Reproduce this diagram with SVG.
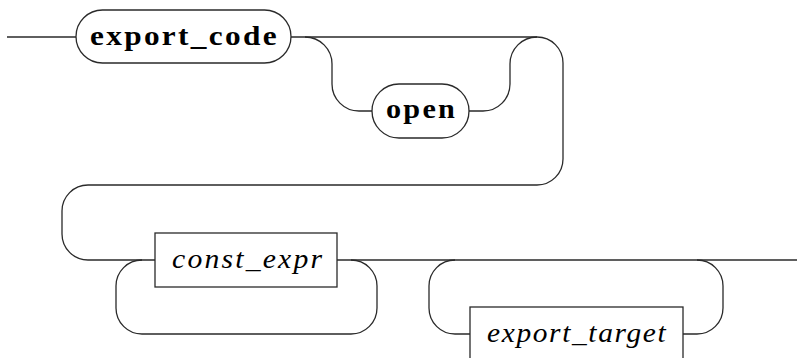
<svg xmlns="http://www.w3.org/2000/svg" width="797" height="358" viewBox="0 0 797 358" font-family="Liberation Serif">
<style>
.ln{fill:none;stroke:#2a2a2a;stroke-width:1.3}
.nd{fill:#fff;stroke:#2a2a2a;stroke-width:1.3}
svg text{font-family:"Liberation Serif","Times New Roman",serif !important}
</style>
<rect width="797" height="358" fill="#fff"/>
<g id="connectors">
<path class="ln" d="M7,37 H76"/>
<path class="ln" d="M291,37 H537 A26,26 0 0 1 563,63 V159 A26,26 0 0 1 537,185 H88 A26,26 0 0 0 62,211 V234 A26,26 0 0 0 88,260 H155"/>
<path class="ln" d="M305,37 A27,27 0 0 1 332,64 V84 A27,27 0 0 0 359,111 H372"/>
<path class="ln" d="M469,111 H483 A27,27 0 0 0 510,84 V64 A27,27 0 0 1 537,37"/>
<path class="ln" d="M142,260 A26,26 0 0 0 116,286 V308 A26,26 0 0 0 142,334 H351 A26,26 0 0 0 377,308 V286 A26,26 0 0 0 351,260"/>
<path class="ln" d="M337,260 H797"/>
<path class="ln" d="M455,260 A26,26 0 0 0 429,286 V308 A26,26 0 0 0 455,334 H470"/>
<path class="ln" d="M683,334 H697 A26,26 0 0 0 723,308 V286 A26,26 0 0 0 697,260"/>
</g>
<g id="export_code" font-family="Liberation Serif">
<rect class="nd" x="76" y="10" width="215" height="53" rx="26.5" ry="26.5"/>
<text transform="translate(90,45) scale(1.16,1)" style="font-family:'Liberation Serif',serif;font-weight:bold;font-size:27px;letter-spacing:2px" fill="#000">export_code</text>
</g>
<g id="open" font-family="Liberation Serif">
<rect class="nd" x="372" y="84" width="97" height="54" rx="27" ry="27"/>
<text transform="translate(386,118) scale(1.12,1)" style="font-family:'Liberation Serif',serif;font-weight:bold;font-size:27px;letter-spacing:2px" fill="#000">open</text>
</g>
<g id="const_expr" font-family="Liberation Serif">
<rect class="nd" x="155" y="233" width="182" height="54"/>
<text transform="translate(172,268) scale(1.1,1)" style="font-family:'Liberation Serif',serif;font-style:italic;font-size:27px;letter-spacing:2px" fill="#000">const_expr</text>
</g>
<g id="export_target" font-family="Liberation Serif">
<rect class="nd" x="470" y="307" width="213" height="55"/>
<text transform="translate(487,342) scale(1.09,1)" style="font-family:'Liberation Serif',serif;font-style:italic;font-size:27px;letter-spacing:1.5px" fill="#000">export_target</text>
</g>
</svg>
